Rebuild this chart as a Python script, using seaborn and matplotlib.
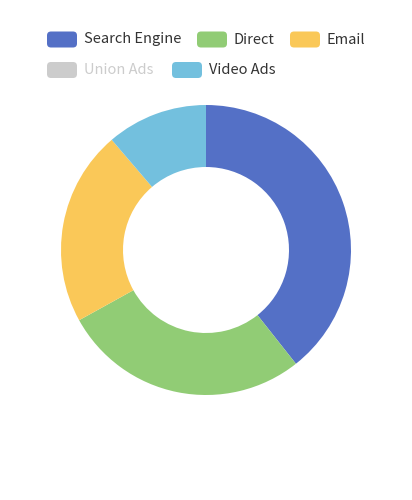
import matplotlib
matplotlib.use("Agg")
import matplotlib.pyplot as plt
import seaborn as sns
from matplotlib.patches import FancyBboxPatch

# data
categories = ["Search Engine", "Direct", "Email", "Union Ads", "Video Ads"]
values = [1048, 735, 580, 484, 300]
colors = ["#5470c6", "#91cc75", "#fac858", "#ee6666", "#73c0de"]
hidden = ["Union Ads"]  # deselected in the legend

sns.set_theme(style="white")
plt.rcParams["font.family"] = ["Noto Sans CJK SC", "DejaVu Sans"]

W, H = 412, 500
fig = plt.figure(figsize=(W / 100, H / 100), dpi=100)
ax = fig.add_axes([0, 0, 1, 1])

shown = [i for i, c in enumerate(categories) if c not in hidden]
ax.pie(
    [values[i] for i in shown],
    colors=[colors[i] for i in shown],
    center=(206, H - 250),
    radius=145,
    startangle=90,
    counterclock=False,
    wedgeprops=dict(width=62, linewidth=0),
)

# legend (two rows, like the echarts legend)
legend_pos = [(47, 39.5), (197, 39.5), (290, 39.5), (47, 70), (172, 70)]
bw, bh = 30, 16
for i, name in enumerate(categories):
    x, y = legend_pos[i]
    off = name in hidden
    fc = "#cccccc" if off else colors[i]
    box = FancyBboxPatch(
        (x, H - y - bh / 2), bw, bh,
        boxstyle="round,pad=0,rounding_size=4",
        facecolor=fc, edgecolor="none",
    )
    ax.add_patch(box)
    ax.text(x + bw + 7, H - y, name, ha="left", va="center",
            fontsize=10.5, color="#cccccc" if off else "#333333")

ax.set_xlim(0, W)
ax.set_ylim(0, H)
ax.set_aspect("auto")
ax.axis("off")

fig.savefig("out.png", dpi=100, facecolor="white")
